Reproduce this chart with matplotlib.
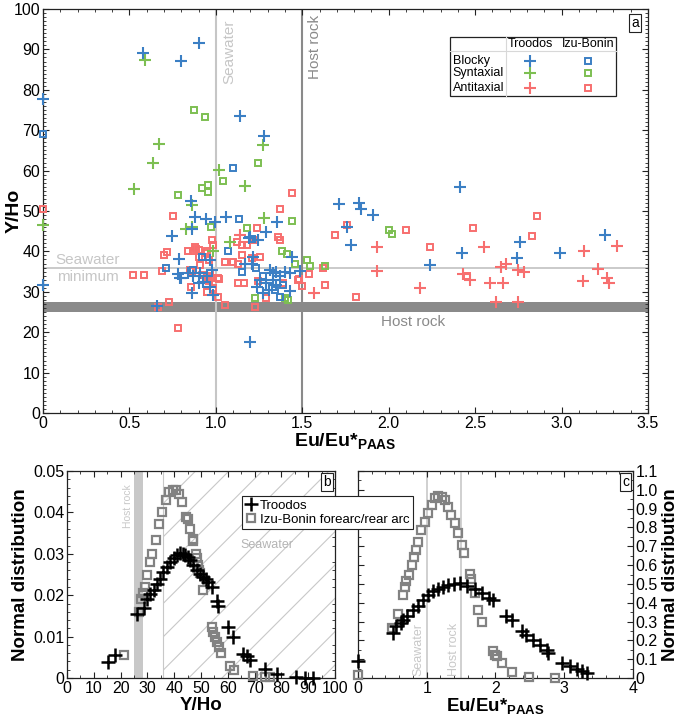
import matplotlib
matplotlib.use("Agg")
import matplotlib.pyplot as plt
from matplotlib.ticker import MultipleLocator, FuncFormatter
from matplotlib.patches import Rectangle

plt.rcParams['font.family'] = ['Liberation Sans', 'DejaVu Sans']
plt.rcParams['mathtext.fontset'] = 'custom'
plt.rcParams['mathtext.rm'] = 'Liberation Sans'
plt.rcParams['mathtext.bf'] = 'Liberation Sans:bold'
plt.rcParams['hatch.linewidth'] = 0.8

# ---------------- Panel a data (Eu/Eu*PAAS, Y/Ho) ----------------
blocky_troodos_x = [0.577, 0.80, 0.90, 0.0, 1.14, 1.28, 0.0, 0.66, 1.197, 0.854, 0.748, 0.788, 0.78,
                    0.80, 0.86, 0.88, 0.94, 0.995, 1.06, 0.86, 0.985, 1.19, 1.245, 1.29, 1.355, 1.44,
                    1.486, 1.71, 1.20, 1.313, 1.33, 1.35, 1.37, 1.40, 1.43, 1.33, 1.29, 1.35, 1.31,
                    1.255, 1.236, 1.27, 1.43, 0.84, 0.87, 0.91, 0.947, 0.927, 0.90, 0.975, 0.966, 0.79,
                    0.966, 1.17, 1.216, 1.21, 1.83, 1.84, 1.91, 1.76, 1.78, 2.24, 2.41, 2.425, 2.74,
                    2.76, 2.99, 3.25]
blocky_troodos_y = [89.2, 87.2, 91.5, 77.7, 73.6, 68.6, 31.7, 26.5, 17.7, 52.5, 43.9, 38.1, 34.4,
                    33.5, 29.6, 48.4, 48.0, 47.2, 48.4, 45.5, 29.2, 43.3, 42.8, 44.9, 47.4, 38.5,
                    35.2, 51.7, 43.6, 35.4, 34.6, 35.0, 33.8, 35.0, 34.6, 32.9, 32.1, 31.7, 30.4,
                    32.9, 31.3, 29.6, 30.1, 34.6, 33.8, 34.6, 33.8, 32.5, 32.1, 35.4, 37.9, 33.3,
                    31.3, 37.0, 38.7, 37.0, 52.0, 50.6, 49.0, 46.0, 41.7, 36.6, 56.0, 39.5, 38.3,
                    42.4, 39.5, 44.0]

blocky_izu_x = [0.0, 1.10, 0.71, 0.87, 1.07, 1.135, 1.21, 1.27, 1.34, 1.39, 1.37, 1.23, 1.15, 0.92]
blocky_izu_y = [69.0, 60.7, 36.0, 35.5, 40.2, 48.0, 43.0, 33.8, 30.4, 31.7, 28.8, 36.0, 35.0, 38.5]

syntaxial_troodos_x = [0.59, 1.27, 1.02, 0.673, 0.634, 0.528, 1.17, 0.0, 0.86, 0.83, 0.985, 1.08,
                       1.28, 0.86]
syntaxial_troodos_y = [87.4, 66.3, 60.1, 66.7, 62.0, 55.4, 56.3, 46.5, 51.5, 45.5, 40.0, 42.4,
                       48.2, 46.1]

syntaxial_izu_x = [0.873, 0.937, 1.245, 1.04, 0.78, 0.92, 0.956, 0.956, 0.97, 1.18, 1.44, 1.38,
                   1.41, 1.46, 1.525, 1.545, 1.63, 1.226, 1.40, 1.42, 2.0, 2.02]
syntaxial_izu_y = [75.0, 73.3, 62.0, 57.5, 54.0, 55.6, 56.4, 54.8, 46.0, 45.9, 47.6, 40.0,
                   39.4, 36.9, 37.9, 36.4, 36.3, 28.4, 28.4, 28.0, 45.3, 44.2]

antitaxial_troodos_x = [1.57, 1.93, 1.93, 2.18, 2.55, 2.43, 2.47, 2.585, 2.66, 2.62, 2.75, 2.65,
                        2.68, 2.75, 2.78, 3.13, 3.125, 3.21, 3.26, 3.275, 3.32, 1.14]
antitaxial_troodos_y = [29.8, 41.2, 35.2, 30.9, 41.2, 34.4, 32.9, 32.3, 32.1, 27.6, 27.6, 36.2,
                        37.0, 35.4, 35.0, 40.1, 32.7, 35.6, 33.3, 32.3, 41.3, 44.0]

antitaxial_izu_x = [0.0, 0.52, 0.584, 0.663, 0.73, 0.78, 0.75, 0.715, 0.70, 0.69, 0.854, 0.885,
                    0.84, 0.95, 0.975, 0.905, 0.96, 0.86, 0.95, 0.97, 0.96, 0.985, 0.95, 1.01,
                    1.05, 1.02, 1.12, 1.15, 1.18, 1.24, 1.37, 1.36, 1.37, 1.54, 1.48, 1.50, 1.62,
                    1.63, 1.69, 1.76, 1.44, 1.22, 1.15, 1.05, 1.10, 1.13, 1.21, 1.255, 1.245, 1.39,
                    1.29, 1.226, 1.13, 1.16, 1.477, 0.87, 0.90, 0.88, 0.937, 0.985, 0.908, 0.85,
                    0.918, 0.947, 0.966, 0.956, 1.014, 0.947, 0.985, 1.81, 2.10, 2.24, 2.49, 2.45,
                    2.83, 2.86]
antitaxial_izu_y = [50.4, 34.2, 34.2, 26.3, 27.6, 21.1, 48.8, 39.9, 39.0, 35.2, 31.3, 40.7,
                    40.0, 40.0, 42.8, 38.5, 37.9, 35.2, 34.0, 33.5, 32.7, 30.9, 30.0, 28.8,
                    26.7, 33.1, 42.4, 41.5, 41.5, 45.7, 50.4, 43.6, 42.8, 34.4, 33.1, 31.4, 36.0,
                    31.7, 44.0, 46.5, 54.4, 42.8, 39.1, 37.5, 37.5, 37.0, 38.3, 38.7, 32.6, 32.3,
                    28.4, 26.3, 32.1, 32.1, 32.9, 40.0, 40.3, 41.2, 39.5, 41.6, 36.6, 35.4,
                    34.2, 33.8, 34.6, 32.9, 33.3, 30.0, 30.4, 28.6, 45.3, 41.2, 45.9, 33.8,
                    43.9, 48.8]

# ---------------- Panel b data (Y/Ho, normal distribution) ----------------
b_troodos_x = [15.2, 18.0, 26.3, 28.6, 29.8, 31.0, 32.3, 33.5, 34.8, 36.0, 37.3, 38.5, 39.8, 41.0,
               42.2, 43.2, 44.1, 45.0, 46.0, 47.2, 48.4, 49.6, 50.9, 52.0, 52.8, 54.0, 55.9, 56.5,
               60.2, 62.1, 65.8, 67.0, 68.3, 74.0, 78.3, 85.6, 88.8, 91.9]
b_troodos_y = [0.0038, 0.0056, 0.0155, 0.0169, 0.0190, 0.0202, 0.0213, 0.0227, 0.0240, 0.0255,
               0.0269, 0.0280, 0.0289, 0.0296, 0.0301, 0.0300, 0.0297, 0.0292, 0.0285, 0.0273,
               0.0260, 0.0252, 0.0245, 0.0238, 0.0233, 0.0220, 0.0185, 0.0174, 0.0123, 0.0100,
               0.0059, 0.0052, 0.0043, 0.0022, 0.0010, 0.0002, 0.0001, 0.0001]
b_izu_x = [21.2, 26.9, 27.5, 28.5, 29.0, 30.0, 31.0, 31.9, 33.1, 34.4, 35.6, 36.9, 38.1, 39.4,
           40.6, 41.9, 43.1, 44.4, 45.2, 46.0, 46.9, 47.2, 48.1, 48.5, 49.0, 49.4, 49.8, 50.6,
           54.0, 54.5, 55.4, 56.0, 56.6, 57.5, 61.0, 62.3, 69.4, 73.8, 75.6]
b_izu_y = [0.0055, 0.0160, 0.0190, 0.0205, 0.0220, 0.0250, 0.0280, 0.0300, 0.0333, 0.0373,
           0.0400, 0.0429, 0.0449, 0.0453, 0.0453, 0.0445, 0.0425, 0.0390, 0.0385, 0.0360,
           0.0337, 0.0330, 0.0300, 0.0290, 0.0273, 0.0260, 0.0253, 0.0213, 0.0124, 0.0112,
           0.0099, 0.0088, 0.0076, 0.0060, 0.0028, 0.0020, 0.0004, 0.0002, 0.0002]

# ---------------- Panel c data (Eu/Eu*PAAS, normal distribution) ----------------
c_troodos_x = [0.0, 0.51, 0.56, 0.62, 0.66, 0.72, 0.80, 0.87, 0.95, 1.02, 1.09, 1.16, 1.24, 1.31,
               1.39, 1.48, 1.58, 1.70, 1.80, 1.90, 1.97, 2.16, 2.24, 2.38, 2.45, 2.55, 2.65, 2.75,
               2.77, 2.96, 3.09, 3.18, 3.26, 3.33]
c_troodos_y = [0.088, 0.239, 0.274, 0.290, 0.310, 0.330, 0.360, 0.385, 0.416, 0.440, 0.460,
               0.474, 0.486, 0.494, 0.499, 0.504, 0.490, 0.472, 0.451, 0.424, 0.412, 0.327,
               0.310, 0.248, 0.230, 0.203, 0.177, 0.150, 0.133, 0.080, 0.062, 0.048, 0.035,
               0.027]
c_izu_x = [0.0, 0.50, 0.58, 0.66, 0.68, 0.70, 0.74, 0.78, 0.81, 0.84, 0.87, 0.92, 0.97, 1.02,
           1.07, 1.12, 1.17, 1.22, 1.26, 1.31, 1.36, 1.41, 1.46, 1.51, 1.54, 1.63, 1.64, 1.70,
           1.75, 1.81, 1.97, 2.00, 2.02, 2.10, 2.24, 2.49, 2.87]
c_izu_y = [0.014, 0.265, 0.341, 0.442, 0.486, 0.513, 0.548, 0.600, 0.645, 0.680, 0.725, 0.787,
           0.830, 0.875, 0.920, 0.955, 0.967, 0.964, 0.946, 0.910, 0.866, 0.822, 0.770, 0.707,
           0.663, 0.553, 0.525, 0.450, 0.363, 0.300, 0.141, 0.124, 0.115, 0.080, 0.030, 0.005,
           0.0]

BLUE = '#3b7fc4'
GREEN = '#7dbf52'
RED = '#f76f6f'
LIGHT = '#c6c6c6'
DARK = '#8a8a8a'
TICK_FS = 11.5
LABEL_FS = 13.5

fig = plt.figure(figsize=(6.85, 7.25), dpi=100)
ax_a = fig.add_axes([0.0628, 0.4303, 0.8832, 0.5573])
ax_b = fig.add_axes([0.0978, 0.0648, 0.3912, 0.2855])
ax_c = fig.add_axes([0.5226, 0.0648, 0.4015, 0.2855])

def style(ax):
    for s in ax.spines.values():
        s.set_linewidth(0.9)
        s.set_color('#222222')
    ax.tick_params(which='both', direction='in', top=True, right=True, labelsize=TICK_FS,
                   color='#222222', pad=2)
    ax.tick_params(which='major', length=4, width=0.8)
    ax.tick_params(which='minor', length=2, width=0.6)

# ---------------- Panel a ----------------
style(ax_a)
ax_a.set_xlim(0, 3.5)
ax_a.set_ylim(0, 100)
ax_a.xaxis.set_major_locator(MultipleLocator(0.5))
ax_a.xaxis.set_minor_locator(MultipleLocator(0.1))
ax_a.yaxis.set_major_locator(MultipleLocator(10))
ax_a.yaxis.set_minor_locator(MultipleLocator(1))
ax_a.xaxis.set_major_formatter(FuncFormatter(lambda v, p: '0' if abs(v) < 1e-9 else f'{v:.1f}'))
ax_a.yaxis.set_major_formatter(FuncFormatter(lambda v, p: f'{v:.0f}'))

ax_a.axhspan(25, 27.5, color=DARK, lw=0, zorder=1)
ax_a.axhline(36, color=LIGHT, lw=1.3, zorder=1)
ax_a.axvline(1.0, color=LIGHT, lw=1.5, zorder=1)
ax_a.axvline(1.5, color=DARK, lw=1.5, zorder=1)
ax_a.text(1.035, 97.5, 'Seawater', rotation=90, color=LIGHT, fontsize=11, ha='left', va='top')
ax_a.text(1.535, 98.5, 'Host rock', rotation=90, color=DARK, fontsize=11, ha='left', va='top')
ax_a.text(0.26, 35.7, 'Seawater\nminimum', color=LIGHT, fontsize=11, ha='center', va='center',
          linespacing=1.25)
ax_a.text(2.14, 22.6, 'Host rock', color=DARK, fontsize=11, ha='center', va='center')

ms_p, ms_s = 9, 5
def plus(ax, x, y, c):
    ax.plot(x, y, ls='none', marker='+', ms=ms_p, mew=1.5, color=c, clip_on=False, zorder=3)
def sq(ax, x, y, c):
    ax.plot(x, y, ls='none', marker='s', ms=ms_s, mew=1.4, mec=c, mfc='none', clip_on=False, zorder=3)

sq(ax_a, antitaxial_izu_x, antitaxial_izu_y, RED)
sq(ax_a, syntaxial_izu_x, syntaxial_izu_y, GREEN)
sq(ax_a, blocky_izu_x, blocky_izu_y, BLUE)
plus(ax_a, antitaxial_troodos_x, antitaxial_troodos_y, RED)
plus(ax_a, syntaxial_troodos_x, syntaxial_troodos_y, GREEN)
plus(ax_a, blocky_troodos_x, blocky_troodos_y, BLUE)

ax_a.set_ylabel('Y/Ho', fontsize=14, fontweight='bold')
ax_a.yaxis.set_label_coords(-0.034, 0.5)
ax_a.set_xlabel(r'Eu/Eu*$_{\mathbf{PAAS}}$', fontsize=14, fontweight='bold', labelpad=1)

# table-like legend
T = ax_a.transAxes
ax_a.add_patch(Rectangle((0.673, 0.785), 0.274, 0.146, transform=T, fc='white', ec='#222222',
                         lw=0.9, zorder=5))
ax_a.plot([0.765, 0.765], [0.785, 0.931], transform=T, color='#d8d8d8', lw=0.8, zorder=6)
ax_a.plot([0.673, 0.947], [0.896, 0.896], transform=T, color='#d8d8d8', lw=0.8, zorder=6)
ax_a.text(0.805, 0.913, 'Troodos', transform=T, ha='center', va='center', fontsize=9, zorder=7)
ax_a.text(0.901, 0.913, 'Izu-Bonin', transform=T, ha='center', va='center', fontsize=9, zorder=7)
for lab, yy, c in [('Blocky', 0.872, BLUE), ('Syntaxial', 0.841, GREEN), ('Antitaxial', 0.804, RED)]:
    ax_a.text(0.677, yy, lab, transform=T, ha='left', va='center', fontsize=9, zorder=7)
    ax_a.plot([0.805], [yy], transform=T, marker='+', ms=ms_p, mew=1.5, color=c, zorder=7)
    ax_a.plot([0.901], [yy], transform=T, marker='s', ms=ms_s, mew=1.4, mec=c, mfc='none', zorder=7)

def panel_label(ax, s):
    ax.text(0.985, 0.982, s, transform=ax.transAxes, ha='right', va='top', fontsize=10,
            bbox=dict(boxstyle='square,pad=0.15', fc='white', ec='#222222', lw=0.8), zorder=8)

panel_label(ax_a, 'a')

# ---------------- Panel b ----------------
style(ax_b)
ax_b.set_xlim(0, 100)
ax_b.set_ylim(0, 0.05)
ax_b.xaxis.set_major_locator(MultipleLocator(10))
ax_b.xaxis.set_minor_locator(MultipleLocator(5))
ax_b.yaxis.set_major_locator(MultipleLocator(0.01))
ax_b.yaxis.set_minor_locator(MultipleLocator(0.002))
ax_b.yaxis.set_major_formatter(FuncFormatter(lambda v, p: '0' if abs(v) < 1e-12 else f'{v:.2f}'))
ax_b.xaxis.set_major_formatter(FuncFormatter(lambda v, p: f'{v:.0f}'))
ax_b.tick_params(right=False)

ax_b.axvspan(25, 28.5, color='#c8c8c8', lw=0, zorder=1)
ax_b.axvspan(36, 100, facecolor='none', edgecolor='#c8c8c8', hatch='/', lw=0, zorder=0.5)
ax_b.axvline(36, color='#c8c8c8', lw=0.8, zorder=1)
ax_b.text(22.6, 0.0469, 'Host rock', rotation=90, color='#c8c8c8', fontsize=7.5, ha='center', va='top')
ax_b.text(74.5, 0.0322, 'Seawater', color='#b4b4b4', fontsize=9, ha='center', va='center')

GRAY = '#828282'
ax_b.plot(b_izu_x, b_izu_y, ls='none', marker='s', ms=5.5, mew=1.6, mec=GRAY, mfc='none',
          clip_on=False, zorder=3, label='Izu-Bonin forearc/rear arc')
ax_b.plot(b_troodos_x, b_troodos_y, ls='none', marker='+', ms=10, mew=1.8, color='black',
          clip_on=False, zorder=4, label='Troodos')
ax_b.set_xlabel('Y/Ho', fontsize=LABEL_FS, fontweight='bold', labelpad=1)
ax_b.set_ylabel('Normal distribution', fontsize=LABEL_FS, fontweight='bold', labelpad=3)
panel_label(ax_b, 'b')

# ---------------- Panel c ----------------
style(ax_c)
ax_c.set_xlim(0, 4)
ax_c.set_ylim(0, 1.1)
ax_c.xaxis.set_major_locator(MultipleLocator(1))
ax_c.xaxis.set_minor_locator(MultipleLocator(0.2))
ax_c.yaxis.set_major_locator(MultipleLocator(0.1))
ax_c.yaxis.set_minor_locator(MultipleLocator(0.05))
ax_c.yaxis.set_major_formatter(FuncFormatter(lambda v, p: '0' if abs(v) < 1e-9 else f'{v:.1f}'))
ax_c.xaxis.set_major_formatter(FuncFormatter(lambda v, p: f'{v:.0f}'))
ax_c.yaxis.tick_right()
ax_c.tick_params(which='both', left=True, right=True, labelleft=False, labelright=True)
ax_c.yaxis.set_label_position('right')

ax_c.axvline(1.0, color='#c8c8c8', lw=1.2, zorder=1)
ax_c.axvline(1.5, color='#c8c8c8', lw=1.2, zorder=1)
ax_c.text(0.88, 0.01, 'Seawater', rotation=90, color='#c8c8c8', fontsize=9, ha='center', va='bottom')
ax_c.text(1.39, 0.01, 'Host rock', rotation=90, color='#c8c8c8', fontsize=9, ha='center', va='bottom')

ax_c.plot(c_izu_x, c_izu_y, ls='none', marker='s', ms=5.5, mew=1.6, mec=GRAY, mfc='none',
          clip_on=False, zorder=3)
ax_c.plot(c_troodos_x, c_troodos_y, ls='none', marker='+', ms=10, mew=1.8, color='black',
          clip_on=False, zorder=4)
ax_c.set_xlabel(r'Eu/Eu*$_{\mathbf{PAAS}}$', fontsize=LABEL_FS, fontweight='bold', labelpad=1)
ax_c.set_ylabel('Normal distribution', fontsize=LABEL_FS, fontweight='bold', labelpad=3)
panel_label(ax_c, 'c')

h, l = ax_b.get_legend_handles_labels()
leg = fig.legend(h[::-1], l[::-1], loc='upper left', bbox_to_anchor=(0.3533, 0.3159),
                 borderaxespad=0, fancybox=False, edgecolor='#222222', framealpha=1,
                 fontsize=9.5, handlelength=0.8, handletextpad=0.3, labelspacing=0.15,
                 borderpad=0.25)
leg.get_frame().set_linewidth(0.8)

fig.savefig('out.png', dpi=100)
